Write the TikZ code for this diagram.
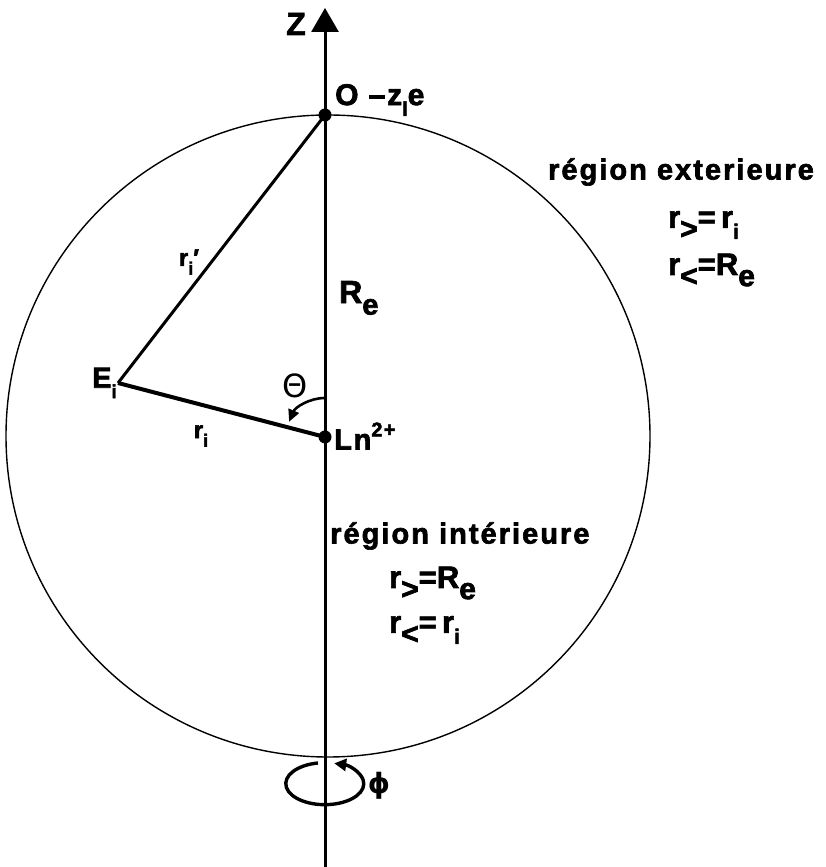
\documentclass[tikz,border=0pt]{standalone}
\usepackage{fontspec}
\setmainfont{Liberation Sans}[BoldFeatures={FakeBold=2}]
\newfontfamily\heavy{Liberation Sans Bold}[FakeBold=2.2]
\newfontfamily\heavysp{Liberation Sans Bold}[FakeBold=2.2,LetterSpace=6]
\newfontfamily\spacedfont{Liberation Sans Bold}[FakeBold=2.2,LetterSpace=7]
\newfontfamily\grkfont{DejaVu Sans}
\newfontfamily\grkbold{DejaVu Sans Bold}
\usetikzlibrary{arrows.meta,shapes.geometric}
\newcommand\sbx[2][20]{\raisebox{-0.36em}{\fontsize{#1}{#1}\selectfont #2}}
\newcommand\spx[1]{\raisebox{0.45em}{\fontsize{20}{20}\selectfont #1}}
\begin{document}
\begin{tikzpicture}[x=1pt,y=1pt,
  lbl/.style={font=\heavy\fontsize{31}{32}\selectfont, inner sep=0pt},
  reg/.style={font=\spacedfont\fontsize{29}{30}\selectfont, inner sep=0pt},
  dot/.style={circle, fill=black, inner sep=0pt, minimum size=13pt},
  thickline/.style={line width=3pt}]
\useasboundingbox (0,0) rectangle (826,867);
% axis
\coordinate (axbot) at (325,0);
\coordinate (axtop) at (325,859);
\draw[thickline, -{Triangle[length=24pt,width=27pt]}] (axbot) -- (axtop);
\node[lbl, font=\heavy\fontsize{32}{34}\selectfont] (Z) at (296,843) {Z};
% sphere
\node[draw, line width=1.4pt, ellipse, minimum width=644pt, minimum height=642pt, inner sep=0pt] (sphere) at (328,431) {};
% points
\node[dot] (O) at (325,752) {};
\node[dot] (Ln) at (325,430) {};
\coordinate (E) at (118,484);
\draw[line width=3pt] (O.center) -- (E);
\draw[line width=4pt] (E) -- (Ln.center);
% theta arc
\draw[line width=2.6pt, -{Triangle[length=12pt,width=11pt]}] (325,469) arc[start angle=90, end angle=157, radius=39pt];
\node[inner sep=0pt, font=\grkfont\fontsize{32}{32}\selectfont] (theta) at (295,481) {Θ};
% labels
\node[lbl, anchor=west, font=\heavysp\fontsize{30}{32}\selectfont] (Olbl) at (335,767) {O –z\sbx[20]{l}e};
\node[reg] (rext) at (681,695) {région exterieure};
\node[lbl, anchor=west] (r1) at (668,642) {r\sbx[30]{>}=\,r\sbx[21]{i}};
\node[lbl, anchor=west] (r2) at (668,597) {r\sbx[30]{<}=R\sbx[30]{e}};
\node[lbl, font=\heavy\fontsize{24}{24}\selectfont] (rip) at (189,605) {r\sbx[18]{i}′};
\node[lbl, anchor=west, font=\heavy\fontsize{32}{34}\selectfont] (Re) at (339,569) {R\sbx[29]{e}};
\node[lbl, anchor=east, font=\heavy\fontsize{29}{30}\selectfont] (Ei) at (117,484) {E\sbx[19]{i}};
\node[lbl, font=\heavy\fontsize{24}{24}\selectfont] (ri) at (201,431) {r\sbx[18]{i}};
\node[lbl, anchor=west, font=\heavysp\fontsize{29}{30}\selectfont] (Lnlbl) at (334,431) {Ln\spx{2+}};
\node[reg, anchor=west] (rint) at (330,331) {région intérieure};
\node[lbl, anchor=west] (r3) at (389,284) {r\sbx[30]{>}=R\sbx[30]{e}};
\node[lbl, anchor=west] (r4) at (389,237) {r\sbx[30]{<}=\,r\sbx[21]{i}};
% phi rotation
\draw[line width=3.4pt, -{Triangle[length=12pt,width=12pt]}] (318,104) arc[start angle=100, end angle=436, x radius=39pt, y radius=21pt];
\node[inner sep=0pt, font=\grkbold\fontsize{28}{28}\selectfont] (phi) at (379,81) {ϕ};
\end{tikzpicture}
\end{document}
